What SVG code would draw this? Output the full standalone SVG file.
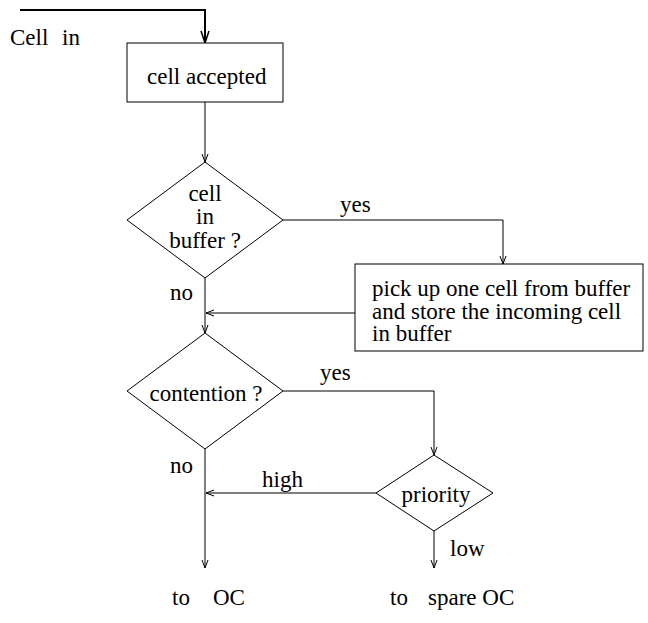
<svg xmlns="http://www.w3.org/2000/svg" width="648" height="623" viewBox="0 0 648 623">
  <defs>
    <style>
      .shape { fill: #ffffff; stroke: #000000; stroke-width: 1; }
      .wire { fill: none; stroke: #000000; stroke-width: 1; }
      .thick { fill: none; stroke: #000000; stroke-width: 2; }
      text { font-family: "Liberation Serif", "Times New Roman", serif; font-size: 23px; fill: #000000; }
      .mid { text-anchor: middle; }
    </style>
    <marker id="arrow" markerWidth="10" markerHeight="10" refX="9" refY="5" orient="auto" markerUnits="userSpaceOnUse">
      <path d="M1,2 L9,5 L1,8" fill="none" stroke="#000000" stroke-width="1"/>
    </marker>
    <marker id="arrowBig" markerWidth="14" markerHeight="14" refX="13" refY="7" orient="auto" markerUnits="userSpaceOnUse">
      <path d="M1,3 L13,7 L1,11" fill="none" stroke="#000000" stroke-width="1.5"/>
    </marker>
  </defs>

  <g id="connectors">
    <!-- incoming cell -->
    <path class="thick" d="M20,10 H205 V43" marker-end="url(#arrowBig)"/>
    <text x="10" y="45">Cell</text>
    <text x="62" y="45">in</text>
    <!-- accepted to buffer check -->
    <path class="wire" d="M205,102 V162" marker-end="url(#arrow)"/>
    <!-- buffer check yes -->
    <path class="wire" d="M283,220 H503 V264" marker-end="url(#arrow)"/>
    <text x="340" y="212">yes</text>
    <!-- buffer check no -->
    <path class="wire" d="M205,278 V333" marker-end="url(#arrow)"/>
    <text x="170" y="300">no</text>
    <!-- buffer action back to main line -->
    <path class="wire" d="M355,313 H206" marker-end="url(#arrow)"/>
    <!-- contention yes -->
    <path class="wire" d="M283,391 H434 V455" marker-end="url(#arrow)"/>
    <text x="320" y="380">yes</text>
    <!-- contention no -->
    <path class="wire" d="M205,449 V568" marker-end="url(#arrow)"/>
    <text x="170" y="473">no</text>
    <!-- priority high -->
    <path class="wire" d="M376,493 H206" marker-end="url(#arrow)"/>
    <text x="262" y="487">high</text>
    <!-- priority low -->
    <path class="wire" d="M434,531 V568" marker-end="url(#arrow)"/>
    <text x="450" y="556">low</text>
  </g>

  <g id="cell-accepted">
    <rect class="shape" x="127" y="43" width="156" height="59"/>
    <text x="147" y="84">cell accepted</text>
  </g>

  <g id="cell-in-buffer">
    <polygon class="shape" points="205,162 283,220 205,278 127,220"/>
    <text class="mid" x="205" y="201">cell</text>
    <text class="mid" x="205" y="224">in</text>
    <text class="mid" x="205" y="248">buffer ?</text>
  </g>

  <g id="buffer-swap">
    <rect class="shape" x="355" y="264" width="288" height="87"/>
    <text x="372" y="296">pick up one cell from buffer</text>
    <text x="372" y="319">and store the incoming cell</text>
    <text x="372" y="341">in buffer</text>
  </g>

  <g id="contention">
    <polygon class="shape" points="205,333 283,391 205,449 127,391"/>
    <text class="mid" x="206" y="401">contention ?</text>
  </g>

  <g id="priority">
    <polygon class="shape" points="434,455 493,493 434,531 376,493"/>
    <text class="mid" x="436" y="502">priority</text>
  </g>

  <g id="to-oc">
    <text x="172" y="605">to</text>
    <text x="213" y="605">OC</text>
  </g>

  <g id="to-spare-oc">
    <text x="390" y="605">to</text>
    <text x="428" y="605">spare OC</text>
  </g>
</svg>
